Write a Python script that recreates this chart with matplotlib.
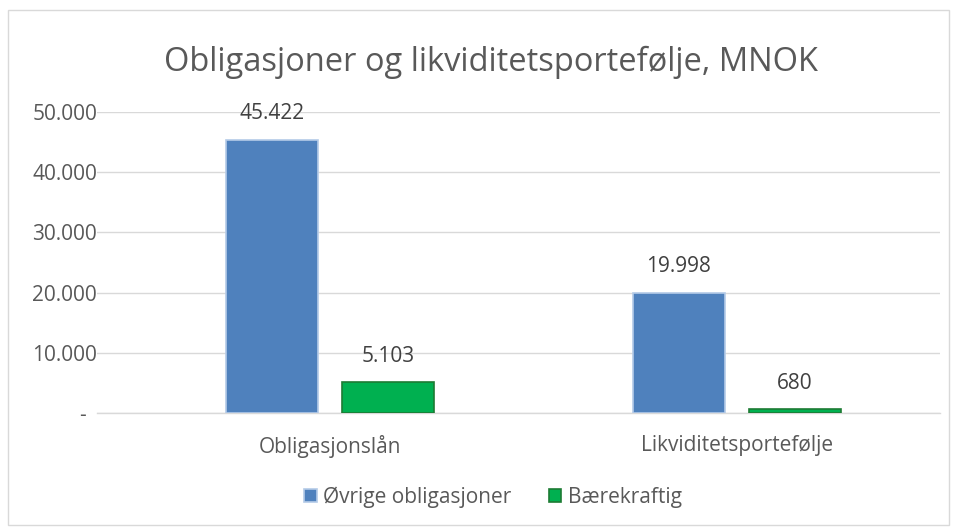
import matplotlib
matplotlib.use("Agg")
import matplotlib.pyplot as plt
from matplotlib.patches import Rectangle
from matplotlib.ticker import FuncFormatter

categories = ["Obligasjonslån", "Likviditetsportefølje"]
series_names = ["Øvrige obligasjoner", "Bærekraftig"]
ovrige = [45422, 19998]
baerekraftig = [5103, 680]
yticks = [0, 10000, 20000, 30000, 40000, 50000]

plt.rcParams['font.family'] = ['Open Sans', 'DejaVu Sans']
txt = '#595959'

fig = plt.figure(figsize=(9.57, 5.28), dpi=100)
W, H = 957, 528
ax = fig.add_axes([97 / W, 1 - 413 / H, (940 - 97) / W, (413 - 112) / H])

# chart border
fig.patches.append(Rectangle((8 / W, 3 / H), (949 - 8) / W, (518 - 3) / H,
                             transform=fig.transFigure, fill=False,
                             edgecolor='#d9d9d9', linewidth=1))

x = [0, 1]
bw = 0.226
off = 0.1425
b1 = ax.bar([xi - off for xi in x], ovrige, bw, color='#4F81BD',
            edgecolor='#B4CBE8', linewidth=1.2, label=series_names[0], zorder=3)
b2 = ax.bar([xi + off for xi in x], baerekraftig, bw, color='#00B050',
            edgecolor='#1E7B34', linewidth=1.2, label=series_names[1], zorder=3)

def fmt(v):
    return f"{int(v):,}".replace(",", ".")

for bars, vals in ((b1, ovrige), (b2, baerekraftig)):
    for r, v in zip(bars, vals):
        ax.annotate(fmt(v), (r.get_x() + r.get_width() / 2, v),
                    xytext=(0, 11), textcoords='offset points',
                    ha='center', va='bottom', fontsize=15, color='#404040')

ax.set_xlim(-0.5725, 1.499)
ax.set_ylim(0, 50000)
ax.set_yticks(yticks)
ax.yaxis.set_major_formatter(FuncFormatter(lambda v, p: "-  " if v == 0 else fmt(v)))
ax.set_xticks(x)
ax.set_xticklabels(categories)
ax.tick_params(axis='both', length=0, labelsize=15, labelcolor=txt)
ax.tick_params(axis='x', pad=16)
ax.tick_params(axis='y', pad=0)
ax.grid(axis='y', color='#d9d9d9', linewidth=1, zorder=0)
ax.set_axisbelow(True)
for s in ['top', 'right', 'left']:
    ax.spines[s].set_visible(False)
ax.spines['bottom'].set_color('#d9d9d9')
ax.spines['bottom'].set_linewidth(1)

fig.text(491 / W, 1 - 62 / H, "Obligasjoner og likviditetsportefølje, MNOK",
         ha='center', va='center', fontsize=23.5, color=txt)

fig.legend(handles=[b1, b2], labels=series_names, loc='center',
           bbox_to_anchor=(493 / W, 1 - 497 / H), ncol=2, frameon=False,
           fontsize=15, labelcolor=txt, handlelength=0.6, handleheight=0.6,
           handletextpad=0.3, columnspacing=1.8)

fig.savefig("out.png", dpi=100)
